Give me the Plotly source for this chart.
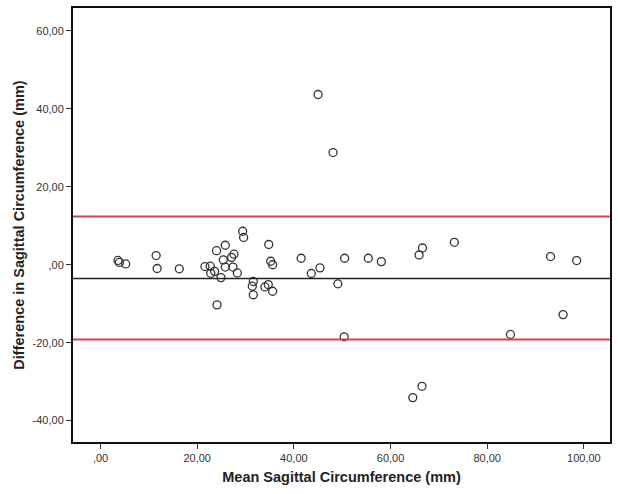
import plotly.graph_objects as go

mean_circ = [3.6, 3.9, 5.2, 11.5, 11.7, 16.3, 21.6, 22.7, 22.8, 23.6, 24.0, 24.1, 24.9,
             25.8, 25.4, 25.8, 27.1, 27.6, 27.4, 28.3, 29.4, 29.6, 31.6, 31.4, 31.6,
             34.0, 34.8, 34.7, 35.2, 35.6, 35.6, 41.5, 43.6, 45.4, 50.5, 49.1, 55.4,
             58.1, 65.9, 66.6, 50.4, 73.2, 93.1, 98.5, 95.7, 84.8, 66.5, 45.0, 48.1, 64.6]
diff_circ = [1.1, 0.6, 0.2, 2.35, -0.97, -1.05, -0.46, -0.38, -2.2, -1.7, 3.6, -10.3, -3.3,
             5.0, 1.25, -0.6, 1.9, 2.7, -0.6, -2.1, 8.6, 7.0, -4.3, -5.5, -7.7,
             -5.7, 5.2, -5.1, 0.9, 0.0, -6.8, 1.67, -2.25, -0.8, 1.67, -4.9, 1.67,
             0.8, 2.5, 4.3, -18.5, 5.76, 2.1, 1.07, -12.8, -17.9, -31.2, 43.7, 28.8, -34.1]

mean_diff = -3.53
upper_loa = 12.4
lower_loa = -19.2

x_ticks = [0, 20, 40, 60, 80, 100]
x_labels = [",00", "20,00", "40,00", "60,00", "80,00", "100,00"]
y_ticks = [-40, -20, 0, 20, 40, 60]
y_labels = ["-40,00", "-20,00", ",00", "20,00", "40,00", "60,00"]

FONT = "Liberation Sans, Arial, sans-serif"

fig = go.Figure()
fig.add_trace(go.Scatter(
    x=mean_circ, y=diff_circ, mode="markers",
    marker=dict(symbol="circle-open", size=8, color="#333333", line=dict(width=1.3)),
    showlegend=False, hoverinfo="skip"))

fig.add_hline(y=upper_loa, line=dict(color="#d6434b", width=2))
fig.add_hline(y=lower_loa, line=dict(color="#d6434b", width=2))
fig.add_hline(y=mean_diff, line=dict(color="#222222", width=1.5))

axis_common = dict(showgrid=False, zeroline=False, showline=True, linecolor="#111111",
                   linewidth=2, mirror=True, ticks="outside", ticklen=5, tickwidth=1,
                   tickcolor="#333333",
                   tickfont=dict(family=FONT, size=11, color="#333333"))

fig.update_xaxes(range=[-5.7, 105.4], tickvals=x_ticks, ticktext=x_labels,
                 title=dict(text="<b>Mean Sagittal Circumference (mm)</b>", standoff=9,
                            font=dict(family=FONT, size=14.5, color="#222222")),
                 **axis_common)
fig.update_yaxes(range=[-45.5, 65.9], tickvals=y_ticks, ticktext=y_labels,
                 title=dict(text="<b>Difference in Sagittal Circumference (mm)</b>", standoff=5,
                            font=dict(family=FONT, size=14.5, color="#222222")),
                 **axis_common)

fig.update_layout(width=618, height=494, margin=dict(l=73, r=6, t=7, b=52),
                  plot_bgcolor="white", paper_bgcolor="white")

fig.write_html("out.html")
